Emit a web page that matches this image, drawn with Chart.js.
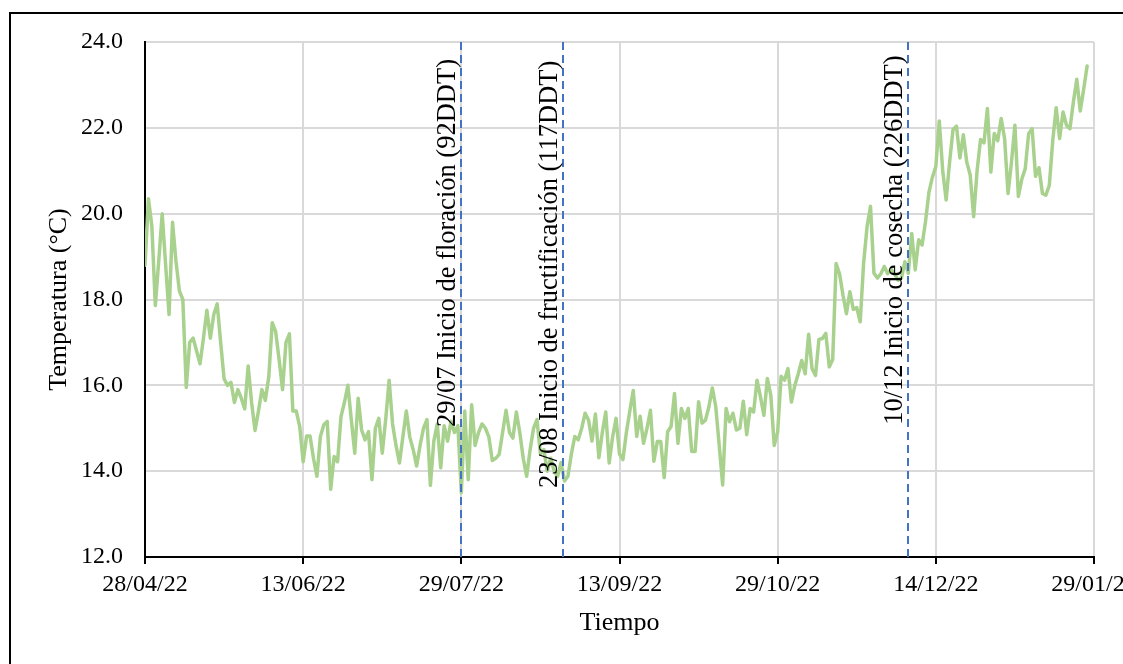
<!DOCTYPE html>
<html>
<head>
<meta charset="utf-8">
<script src="https://cdn.jsdelivr.net/npm/chart.js@4.4.1/dist/chart.umd.min.js"></script>
<style>
  html, body { margin: 0; padding: 0; background: #fff; overflow: hidden; width: 1123px; height: 664px; }
  #frame { position: absolute; left: 9px; top: 12px; width: 1200px; height: 720px; border: 2px solid #000; box-sizing: border-box; }
  #wrap { position: absolute; left: 0; top: 0; width: 1160px; height: 664px; }
</style>
</head>
<body>
<div id="frame"></div>
<div id="wrap"><canvas id="c" width="1160" height="664"></canvas></div>
<script>
// Daily mean temperature, one value per day starting 28/04/22
const dailyTemps = [
  18.8, 20.35, 19.7, 17.86, 18.9, 20.0, 18.8, 17.65, 19.8, 18.9,
  18.2, 18.0, 15.95, 17.0, 17.1, 16.8, 16.5, 17.1, 17.75, 17.1,
  17.65, 17.9, 17.0, 16.15, 16.0, 16.07, 15.6, 15.9, 15.7, 15.45,
  16.45, 15.6, 14.95, 15.4, 15.9, 15.65, 16.2, 17.46, 17.25, 16.6,
  15.9, 17.0, 17.2, 15.4, 15.4, 15.04, 14.22, 14.82, 14.82, 14.3,
  13.88, 14.8, 15.08, 15.16, 13.58, 14.34, 14.22, 15.27, 15.6, 16.0,
  15.2, 14.42, 15.7, 14.96, 14.73, 14.92, 13.8, 15.0, 15.23, 14.42,
  15.2, 16.12, 15.1, 14.6, 14.19, 14.8, 15.4, 14.8, 14.5, 14.12,
  14.6, 15.0, 15.2, 13.67, 14.7, 15.1, 14.08, 15.06, 14.7, 15.16,
  14.9, 15.06, 13.5, 15.4, 13.8, 15.55, 14.6, 14.9, 15.1, 15.0,
  14.8, 14.25, 14.3, 14.39, 14.9, 15.42, 14.9, 14.77, 15.38, 14.9,
  14.3, 13.88, 14.5, 15.0, 15.2, 14.4, 14.5, 14.0, 14.3, 14.0,
  13.88, 14.2, 13.77, 13.88, 14.4, 14.81, 14.73, 15.0, 15.35, 15.19,
  14.7, 15.33, 14.31, 14.9, 15.38, 14.19, 14.8, 15.23, 14.4, 14.27,
  14.9, 15.4, 15.88, 14.81, 15.28, 14.65, 15.0, 15.42, 14.23, 14.69,
  14.69, 13.85, 14.92, 15.04, 15.81, 14.65, 15.46, 15.23, 15.46, 14.46,
  14.46, 15.62, 15.12, 15.19, 15.5, 15.94, 15.5, 14.6, 13.68, 15.46,
  15.15, 15.35, 14.96, 15.0, 15.63, 14.85, 15.46, 15.38, 16.12, 15.73,
  15.3, 16.16, 15.77, 14.6, 14.91, 16.21, 16.12, 16.39, 15.61, 16.0,
  16.27, 16.58, 16.27, 17.19, 16.39, 16.23, 17.07, 17.09, 17.21, 16.43,
  16.6, 18.84, 18.6, 18.1, 17.67, 18.18, 17.77, 17.81, 17.48, 18.85,
  19.7, 20.17, 18.61, 18.5, 18.6, 18.77, 18.6, 18.7, 18.6, 18.45,
  18.5, 18.88, 18.61, 19.54, 18.69, 19.39, 19.27, 19.82, 20.5, 20.85,
  21.1, 22.16, 21.0, 20.32, 21.2, 21.96, 22.04, 21.3, 21.84, 21.2,
  20.9, 19.93, 21.0, 21.73, 21.65, 22.45, 20.97, 21.87, 21.7, 22.22,
  21.75, 20.47, 21.2, 22.06, 20.4, 20.8, 21.05, 21.87, 21.98, 20.87,
  21.07, 20.47, 20.43, 20.66, 21.7, 22.47, 21.75, 22.37, 22.06, 21.98,
  22.6, 23.13, 22.39, 22.9, 23.44
];

// Date labels for the x ticks (every 46 days)
const xTickLabels = ['28/04/22', '13/06/22', '29/07/22', '13/09/22', '29/10/22', '14/12/22', '29/01/23'];
const xTickStepDays = 46;

// Crop stage markers (day offset from 28/04/22)
const stageDays = [92, 121.5, 222];
const stageLabels = [
  '29/07 Inicio de floración (92DDT)',
  '23/08 Inicio de fructificación (117DDT)',
  '10/12 Inicio de cosecha (226DDT)'
];
// Temperature at which each rotated marker label starts
const stageLabelStart = [15.03, 13.61, 15.08];

const FONT = '"Liberation Serif", "Times New Roman", serif';

const stageMarkers = {
  id: 'stageMarkers',
  afterDatasetsDraw(chart) {
    const { ctx, chartArea, scales } = chart;
    ctx.save();
    ctx.strokeStyle = '#4472c4';
    ctx.lineWidth = 2;
    ctx.setLineDash([8, 5]);
    stageDays.forEach(d => {
      const x = Math.round(scales.x.getPixelForValue(d));
      ctx.beginPath();
      ctx.moveTo(x, chartArea.top);
      ctx.lineTo(x, chartArea.bottom);
      ctx.stroke();
    });
    ctx.setLineDash([]);
    ctx.fillStyle = '#000';
    ctx.font = '26.5px ' + FONT;
    ctx.textAlign = 'left';
    ctx.textBaseline = 'alphabetic';
    stageDays.forEach((d, i) => {
      const x = scales.x.getPixelForValue(d) - 6;
      const y = scales.y.getPixelForValue(stageLabelStart[i]);
      ctx.save();
      ctx.translate(x, y);
      ctx.rotate(-Math.PI / 2);
      ctx.fillText(stageLabels[i], 0, 0);
      ctx.restore();
    });
    ctx.restore();
  }
};

new Chart(document.getElementById('c'), {
  type: 'line',
  data: {
    datasets: [{
      data: dailyTemps.map((v, i) => ({ x: i, y: v })),
      borderColor: '#a9d18e',
      borderWidth: 3.5,
      borderJoinStyle: 'round',
      borderCapStyle: 'round',
      pointRadius: 0,
      tension: 0,
      fill: false
    }]
  },
  options: {
    responsive: false,
    animation: false,
    devicePixelRatio: 1,
    layout: { padding: { left: 0, top: 42, right: 66, bottom: 0 } },
    plugins: { legend: { display: false }, tooltip: { enabled: false } },
    scales: {
      x: {
        type: 'linear',
        min: 0,
        max: xTickStepDays * (xTickLabels.length - 1),
        afterFit(s) { s.height = 107; },
        ticks: {
          stepSize: xTickStepDays,
          autoSkip: false,
          maxRotation: 0,
          padding: 6,
          color: '#000',
          font: { family: FONT, size: 24 },
          callback: v => xTickLabels[Math.round(v / xTickStepDays)] ?? ''
        },
        grid: {
          color: '#d9d9d9',
          lineWidth: 2,
          drawTicks: true,
          tickLength: 7,
          tickColor: '#000',
          tickWidth: 2
        },
        border: { color: '#000', width: 2 },
        title: {
          display: true,
          text: 'Tiempo',
          color: '#000',
          font: { family: FONT, size: 26 },
          padding: { top: 0, bottom: 25 }
        }
      },
      y: {
        min: 12,
        max: 24,
        afterFit(s) { s.width = 145; },
        ticks: {
          stepSize: 2,
          padding: 22,
          color: '#000',
          font: { family: FONT, size: 24 },
          callback: v => Number(v).toFixed(1)
        },
        grid: { color: '#d9d9d9', lineWidth: 2, drawTicks: false },
        border: { color: '#000', width: 2 },
        title: {
          display: true,
          text: 'Temperatura (°C)',
          color: '#000',
          font: { family: FONT, size: 26 },
          padding: { top: 44, bottom: 0 }
        }
      }
    }
  },
  plugins: [stageMarkers]
});
</script>
</body>
</html>
